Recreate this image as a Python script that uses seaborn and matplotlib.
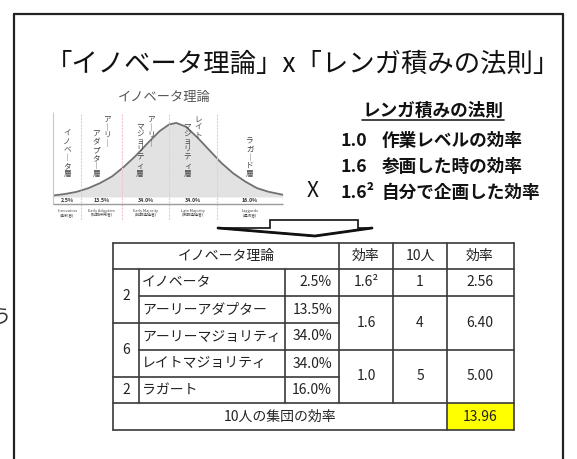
import matplotlib
matplotlib.use("Agg")
import matplotlib.pyplot as plt
import matplotlib.transforms as mtransforms
from matplotlib.patches import Polygon, Rectangle
import seaborn as sns

# bell curve (x in sigma-ish units, relative height)
curve_x = [-2.45, -2.2, -1.95, -1.7, -1.45, -1.2, -0.95, -0.7, -0.45, -0.2, 0.0,
           0.15, 0.35, 0.6, 0.85, 1.1, 1.35, 1.6, 1.85, 2.1, 2.4]
curve_y = [0.02, 0.04, 0.07, 0.12, 0.19, 0.28, 0.41, 0.56, 0.73, 0.89, 0.98,
           1.0, 0.95, 0.80, 0.63, 0.46, 0.32, 0.21, 0.12, 0.07, 0.03]
segment_edges = [-2.45, -1.85, -1.0, 0.0, 1.0, 2.4]
segment_top = ["", "アーリー", "アーリー", "レイト", ""]
segment_main = ["イノベータ層", "アダプター層", "マジョリティ層", "マジョリティ層", "ラガード層"]
segment_pct = ["2.5%", "13.5%", "34.0%", "34.0%", "16.0%"]
segment_en = ["Innovators\n(革新者)", "Early Adopters\n(初期採用者)", "Early Majority\n(前期追随者)",
              "Late Majority\n(後期追随者)", "Laggards\n(遅滞者)"]

rule_title = "レンガ積みの法則"
rule_values = ["1.0", "1.6", "1.6²"]
rule_texts = ["作業レベルの効率", "参画した時の効率", "自分で企画した効率"]

# table
group_sizes = [2, 6, 2]
group_rows = [2, 2, 1]
names = ["イノベータ", "アーリーアダプター", "アーリーマジョリティ", "レイトマジョリティ", "ラガート"]
shares = [2.5, 13.5, 34.0, 34.0, 16.0]
eff_labels = ["1.6²", "1.6", "1.0"]
eff_rows = [1, 2, 2]
people = [1, 4, 5]
eff_totals = [2.56, 6.40, 5.00]
grand_total = 13.96

sns.set_theme(style="white")
plt.rcParams["font.family"] = ["Noto Sans CJK JP", "DejaVu Sans"]

W, H = 577, 459
fig = plt.figure(figsize=(W / 100, H / 100), dpi=100)
ax = fig.add_axes([0, 0, 1, 1])
ax.set_xlim(0, W)
ax.set_ylim(H, 0)
ax.axis("off")

# slide frame
ax.plot([14, 14], [14, 470], color="#222", lw=1.6)
ax.plot([563, 563], [14, 470], color="#222", lw=1.6)
ax.plot([14, 563], [14, 14], color="#222", lw=1.6)
ax.text(2, 317, "う", fontsize=14, ha="center", va="center", color="#333")

ax.text(303, 64, "「イノベータ理論」x「レンガ積みの法則」", fontsize=19,
        ha="center", va="center", color="#111")

# bell curve picture
base_px, top_px = 197, 117
bell = fig.add_axes([53 / W, 1 - base_px / H, 230 / W, (base_px - top_px) / H])
bell.patch.set_alpha(0)
bell.fill_between(curve_x, curve_y, color="#e2e2e2", lw=0)
sns.lineplot(x=curve_x, y=curve_y, ax=bell, color="#707070", lw=1.3)
bell.set_xlim(segment_edges[0], segment_edges[-1])
bell.set_ylim(0, 1.08)
bell.axis("off")
blend = mtransforms.blended_transform_factory(bell.transData, ax.transData)

bell.vlines(segment_edges[1:-1], 114, 220, colors="#f2c6cf", lw=0.8,
            linestyles=(0, (2, 1)), transform=blend, clip_on=False)
bell.vlines([segment_edges[0]], 112, 204, colors="#c8c8c8", lw=0.8,
            transform=blend, clip_on=False)
bell.hlines([204], segment_edges[0], segment_edges[-1], colors="#9a9a9a", lw=1.0,
            transform=blend, clip_on=False)
ax.text(164, 97, "イノベータ理論", fontsize=9.5, ha="center", va="center", color="#555")

for i in range(len(segment_main)):
    cx = (segment_edges[i] + segment_edges[i + 1]) / 2
    vert = lambda s: "\n".join("｜" if ch == "ー" else ch for ch in s)
    dx = -5.5 if segment_top[i] else 0
    bell.annotate(vert(segment_main[i]), (cx, 178), xycoords=blend,
                  xytext=(dx, 0), textcoords="offset pixels", fontsize=5.5,
                  linespacing=1.0, ha="center", va="bottom", color="#444",
                  annotation_clip=False)
    if segment_top[i]:
        bell.annotate(vert(segment_top[i]), (cx, 116), xycoords=blend,
                      xytext=(5.5, 0), textcoords="offset pixels", fontsize=5.5,
                      linespacing=1.0, ha="center", va="top", color="#444",
                      annotation_clip=False)
    bell.text(cx, 200.5, segment_pct[i], transform=blend, fontsize=3.8,
              fontweight="bold", ha="center", va="center", color="#333", clip_on=False)
    bell.text(cx, 213, segment_en[i], transform=blend, fontsize=2.8,
              ha="center", va="center", color="#444", linespacing=1.1, clip_on=False)

# right side rule list
ax.text(433, 111, rule_title, fontsize=12.7, fontweight="bold", ha="center",
        va="center", color="#111")
ax.plot([362, 504], [120, 120], color="#222", lw=1.2)
for k, (v, t) in enumerate(zip(rule_values, rule_texts)):
    y = 141 + 26 * k
    ax.text(340, y, v, fontsize=12.7, fontweight="bold", ha="left", va="center", color="#111")
    ax.text(382, y, t, fontsize=12.7, fontweight="bold", ha="left", va="center", color="#111")
ax.text(313, 191, "X", fontsize=15, ha="center", va="center", color="#111")

# block arrow
arrow = Polygon([(270, 220), (358, 220), (358, 228), (372, 228), (315, 236),
                 (218, 228), (270, 228)], closed=True, facecolor="white",
                edgecolor="#111", lw=1.2)
ax.add_patch(arrow)
ax.plot([218, 315, 372], [228, 236, 228], color="#111", lw=2.0)

# table
col_x = [113, 139, 285, 339, 393, 447, 514]
row_y = [243, 269, 296, 323, 350, 377, 403, 430]
lc = "#3a3a3a"
ax.add_patch(Rectangle((col_x[5], row_y[6]), col_x[6] - col_x[5], row_y[7] - row_y[6],
                       facecolor="#ffff00", lw=0))
for y in [row_y[0], row_y[1], row_y[6], row_y[7]]:
    ax.plot([col_x[0], col_x[6]], [y, y], color=lc, lw=1.2)
grp_bounds, acc = set(), 0
for n in group_rows[:-1]:
    acc += n
    grp_bounds.add(acc)
eff_bounds, acc = set(), 0
for n in eff_rows[:-1]:
    acc += n
    eff_bounds.add(acc)
for b in range(1, len(names)):
    y = row_y[b + 1]
    x0 = col_x[0] if b in grp_bounds else col_x[1]
    x1 = col_x[6] if b in eff_bounds else col_x[3]
    ax.plot([x0, x1], [y, y], color=lc, lw=1.2)
for x in [col_x[0], col_x[6], col_x[5]]:
    ax.plot([x, x], [row_y[0], row_y[7]], color=lc, lw=1.2)
for x in [col_x[1], col_x[2]]:
    ax.plot([x, x], [row_y[1], row_y[6]], color=lc, lw=1.2)
for x in [col_x[3], col_x[4]]:
    ax.plot([x, x], [row_y[0], row_y[6]], color=lc, lw=1.2)

fs = 10
tc = "#222"
ax.text((col_x[0] + col_x[3]) / 2, 256, "イノベータ理論", fontsize=fs, ha="center", va="center", color=tc)
ax.text(366, 256, "効率", fontsize=fs, ha="center", va="center", color=tc)
ax.text(420, 256, "10人", fontsize=fs, ha="center", va="center", color=tc)
ax.text(480, 256, "効率", fontsize=fs, ha="center", va="center", color=tc)

start = 0
for g, n in zip(group_sizes, group_rows):
    yc = (row_y[start + 1] + row_y[start + n + 1]) / 2
    ax.text(126, yc, str(g), fontsize=fs, ha="center", va="center", color=tc)
    start += n
for i, (nm, s) in enumerate(zip(names, shares)):
    yc = (row_y[i + 1] + row_y[i + 2]) / 2
    ax.text(142, yc, nm, fontsize=fs, ha="left", va="center", color=tc)
    ax.text(332, yc, f"{s:.1f}%", fontsize=fs, ha="right", va="center", color=tc)
start = 0
for e, n, p, t in zip(eff_labels, eff_rows, people, eff_totals):
    yc = (row_y[start + 1] + row_y[start + n + 1]) / 2
    ax.text(366, yc, e, fontsize=fs, ha="center", va="center", color=tc)
    ax.text(420, yc, str(p), fontsize=fs, ha="center", va="center", color=tc)
    ax.text(480, yc, f"{t:.2f}", fontsize=fs, ha="center", va="center", color=tc)
    start += n
ax.text((col_x[0] + col_x[5]) / 2, 417, "10人の集団の効率", fontsize=fs, ha="center", va="center", color=tc)
ax.text(480, 417, f"{grand_total:.2f}", fontsize=fs, ha="center", va="center", color=tc)

fig.savefig("out.png", dpi=100)
